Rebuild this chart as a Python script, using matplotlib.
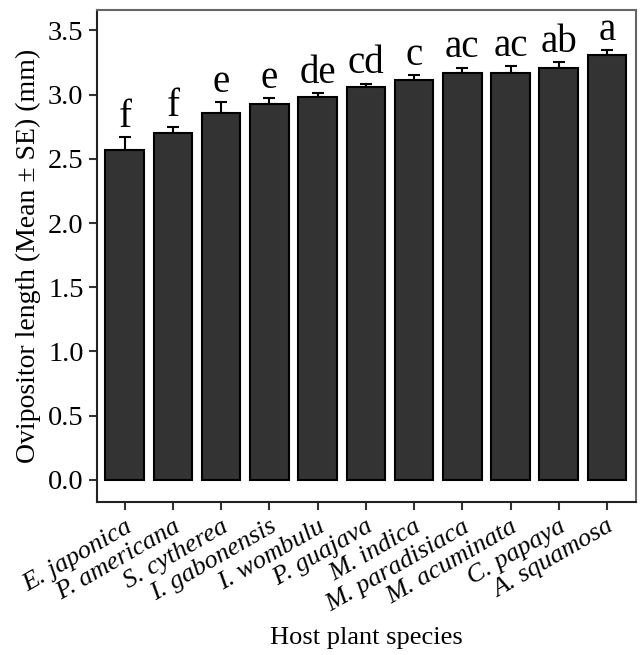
import matplotlib.pyplot as plt
import matplotlib.transforms as mtransforms
import numpy as np

# Host plants, mean ovipositor length and SE (upper bar only)
species = ['E. japonica', 'P. americana', 'S. cytherea', 'I. gabonensis', 'I. wombulu',
           'P. guajava', 'M. indica', 'M. paradisiaca', 'M. acuminata', 'C. papaya', 'A. squamosa']
means = [2.57, 2.70, 2.86, 2.93, 2.98, 3.06, 3.11, 3.17, 3.17, 3.21, 3.31]
se = [0.10, 0.05, 0.08, 0.04, 0.03, 0.025, 0.04, 0.04, 0.05, 0.045, 0.035]
letters = ['f', 'f', 'e', 'e', 'de', 'cd', 'c', 'ac', 'ac', 'ab', 'a']

plt.rcParams['font.family'] = ['Liberation Serif', 'DejaVu Serif']

fig = plt.figure(figsize=(6.41, 6.55), dpi=100)
ax = fig.add_axes([0.151, 0.234, 0.841, 0.751])

x = np.arange(len(species))
ax.bar(x, means, width=0.8, color='#333333', edgecolor='black', linewidth=1.5, zorder=2)
ax.errorbar(x, means, yerr=[np.zeros(len(se)), se], fmt='none', ecolor='black',
            elinewidth=1.5, capsize=4, capthick=1.5, zorder=1)

for xi, m, s, lab in zip(x, means, se, letters):
    ax.text(xi, m + s + 0.08, lab, ha='center', va='baseline', fontsize=28)

ax.set_xlim(-0.58, 10.6)
ax.set_ylim(-0.17, 3.66)
ax.set_yticks(np.arange(0, 3.51, 0.5))
ax.set_yticklabels(['%.1f' % v for v in np.arange(0, 3.51, 0.5)], fontsize=20.5)
ax.set_xticks(x)
ax.set_xticklabels(species, rotation=30, ha='right', rotation_mode='anchor',
                   fontsize=19, style='italic')
shift = mtransforms.ScaledTranslation(12 / 100, 0, fig.dpi_scale_trans)
for t in ax.get_xticklabels():
    t.set_transform(t.get_transform() + shift)
ax.tick_params(axis='both', direction='out', length=6, width=1.5, color='#333333')
ax.tick_params(axis='x', pad=4)

for side in ['left', 'bottom']:
    ax.spines[side].set_color('#222222')
    ax.spines[side].set_linewidth(1.5)
for side in ['top', 'right']:
    ax.spines[side].set_color('#666666')
    ax.spines[side].set_linewidth(1.5)

ax.set_ylabel('Ovipositor length (Mean ± SE) (mm)', fontsize=20, labelpad=5)
ax.set_xlabel('Host plant species', fontsize=19, labelpad=8)

fig.savefig('out.png', dpi=100)
